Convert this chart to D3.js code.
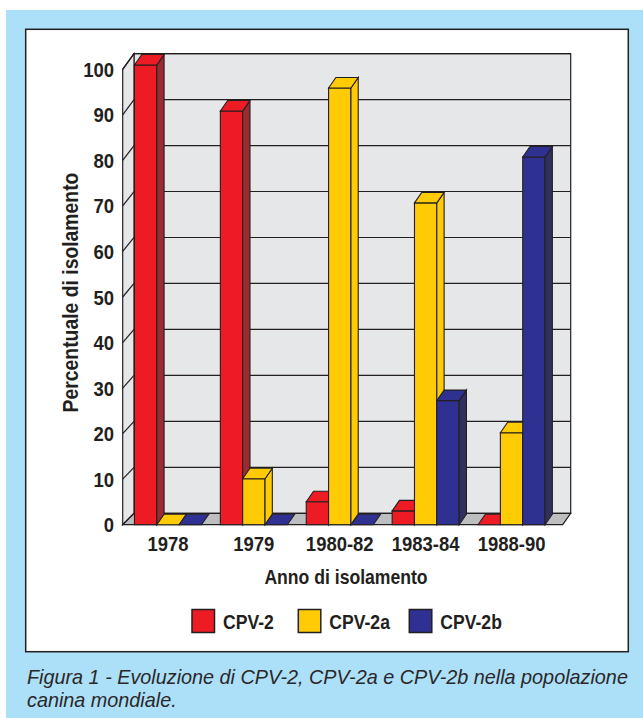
<!DOCTYPE html>
<html>
<head>
<meta charset="utf-8">
<script src="https://cdn.jsdelivr.net/npm/d3@7"></script>
<style>
body { margin: 0; background: #fff; }
</style>
</head>
<body>
<div id="wrap"></div>
<script>

// data
var categories = ["1978", "1979", "1980-82", "1983-84", "1988-90"];
var seriesNames = ["CPV-2", "CPV-2a", "CPV-2b"];
var cpv2  = [100, 90,  5,  3,  0];
var cpv2a = [  0, 10, 95, 70, 20];
var cpv2b = [  0,  0,  0, 27, 80];
var yTicks = [0, 10, 20, 30, 40, 50, 60, 70, 80, 90, 100];
var captionLines = ["Figura 1 - Evoluzione di CPV-2, CPV-2a e CPV-2b nella popolazione",
                    "canina mondiale."];

var seriesValues = [cpv2, cpv2a, cpv2b];
var colors = ["#ed1c24", "#ffcb05", "#2e3192"];
var sideColors = ["#9b2b33", "#ffcb05", "#30305f"];
var ink = "#231f20";
var fontFam = '"Liberation Sans", Arial, sans-serif';
var squeeze = 0.88;   // fake a condensed face

var svg = d3.select("#wrap").append("svg")
    .attr("width", 643)
    .attr("height", 718)
    .style("display", "block");

// light blue frame + white panel
svg.append("rect")
  .attr("x", 6).attr("y", 10).attr("width", 637).attr("height", 708)
  .attr("fill", "#ace0f8");
svg.append("rect")
  .attr("x", 25.7).attr("y", 29.3).attr("width", 602.6).attr("height", 622.4)
  .attr("fill", "#fff").attr("stroke", ink).attr("stroke-width", 1.5);

// scales
var y = d3.scaleLinear().domain([0, 100]).range([524.7, 65]);
var yWall = d3.scaleLinear().domain([0, 100]).range([524.7, 69.3]);

var x0 = d3.scaleBand()
    .domain(categories)
    .range([125, 554.5])
    .paddingInner(0.22)
    .paddingOuter(0.11);
var x1 = d3.scaleBand()
    .domain(seriesNames)
    .range([0, x0.bandwidth()]);

// 3d depth of walls and bars
var xL = 122.7, xR = 562.7;
var wallDxL = 11.3, wallDxR = 8, wallDy = 11.4;
var barDx = 7.3, barDy = 10.5;

function pts(arr) { return arr.map(function(p) { return p.join(","); }).join(" "); }

// place a text at x,y squeezed horizontally
function at(x, y, rot, s) {
  return "translate(" + x + "," + y + ")" + (rot ? " rotate(" + rot + ")" : "") + " scale(" + (s || squeeze) + ",1)";
}

// back wall
svg.append("polygon")
  .attr("points", pts([[xL + wallDxL, y(0) - wallDy], [xL + wallDxL, y(100) - wallDy],
                       [xR + wallDxR, y(100) - wallDy], [xR + wallDxR, y(0) - wallDy]]))
  .attr("fill", "#e6e7e8").attr("stroke", ink).attr("stroke-width", 1.2);

// left wall
svg.append("polygon")
  .attr("points", pts([[xL, yWall(0)], [xL, yWall(100)],
                       [xL + wallDxL, y(100) - wallDy], [xL + wallDxL, y(0) - wallDy]]))
  .attr("fill", "#e6e7e8").attr("stroke", ink).attr("stroke-width", 1.2);

// floor
svg.append("polygon")
  .attr("points", pts([[xL, y(0)], [xR, y(0)],
                       [xR + wallDxR, y(0) - wallDy], [xL + wallDxL, y(0) - wallDy]]))
  .attr("fill", "#bcbec0").attr("stroke", ink).attr("stroke-width", 1.2);

// grid lines on back wall + diagonals on left wall
svg.selectAll(".grid")
  .data(yTicks.filter(function(d) { return d > 0; }))
  .enter().append("line")
    .attr("class", "grid")
    .attr("x1", xL + wallDxL).attr("x2", xR + wallDxR)
    .attr("y1", function(d) { return y(d) - wallDy; })
    .attr("y2", function(d) { return y(d) - wallDy; })
    .attr("stroke", ink).attr("stroke-width", 1.2);

svg.selectAll(".diag")
  .data(yTicks)
  .enter().append("line")
    .attr("class", "diag")
    .attr("x1", xL).attr("x2", xL + wallDxL)
    .attr("y1", function(d) { return yWall(d); })
    .attr("y2", function(d) { return y(d) - wallDy; })
    .attr("stroke", ink).attr("stroke-width", 1.2);

// bars
var barData = [];
categories.forEach(function(c, i) {
  seriesNames.forEach(function(s, j) {
    barData.push({ cat: c, series: s, idx: j, value: seriesValues[j][i] });
  });
});

var bars = svg.selectAll(".bar")
  .data(barData)
  .enter().append("g")
    .attr("class", "bar");

bars.each(function(d) {
  var g = d3.select(this);
  var bx = x0(d.cat) + x1(d.series);
  var w = x1.bandwidth();
  var top = y(d.value), base = y(0);
  if (d.value > 0) {
    g.append("rect")
      .attr("x", bx).attr("y", top).attr("width", w).attr("height", base - top)
      .attr("fill", colors[d.idx]).attr("stroke", ink).attr("stroke-width", 1.1);
    g.append("polygon")
      .attr("points", pts([[bx + w, top], [bx + w + barDx, top - barDy],
                           [bx + w + barDx, base - barDy], [bx + w, base]]))
      .attr("fill", sideColors[d.idx]).attr("stroke", ink).attr("stroke-width", 1.1);
  }
  g.append("polygon")
    .attr("points", pts([[bx, top], [bx + barDx, top - barDy],
                         [bx + w + barDx, top - barDy], [bx + w, top]]))
    .attr("fill", colors[d.idx]).attr("stroke", ink).attr("stroke-width", 1.1);
});

// y tick labels
svg.selectAll(".ytick")
  .data(yTicks)
  .enter().append("text")
    .attr("class", "ytick")
    .attr("transform", function(d) { return at(114, yWall(d) + 7.5); })
    .attr("text-anchor", "end")
    .attr("font-family", fontFam).attr("font-weight", "bold").attr("font-size", 21)
    .attr("fill", ink)
    .text(function(d) { return d; });

// x category labels
svg.selectAll(".xtick")
  .data(categories)
  .enter().append("text")
    .attr("class", "xtick")
    .attr("transform", function(d) { return at(x0(d) + x0.bandwidth() / 2, 551); })
    .attr("text-anchor", "middle")
    .attr("font-family", fontFam).attr("font-weight", "bold").attr("font-size", 21)
    .attr("fill", ink)
    .text(function(d) { return d; });

// axis titles
svg.append("text")
  .attr("transform", at(77.5, 292.5, -90))
  .attr("text-anchor", "middle")
  .attr("font-family", fontFam).attr("font-weight", "bold").attr("font-size", 22)
  .attr("fill", ink)
  .text("Percentuale di isolamento");

svg.append("text")
  .attr("transform", at(346, 584))
  .attr("text-anchor", "middle")
  .attr("font-family", fontFam).attr("font-weight", "bold").attr("font-size", 20)
  .attr("fill", ink)
  .text("Anno di isolamento");

// legend
var legendX = [192, 298.3, 409.3];
var legend = svg.selectAll(".legend")
  .data(seriesNames)
  .enter().append("g")
    .attr("class", "legend")
    .attr("transform", function(d, i) { return "translate(" + legendX[i] + ",609.5)"; });

legend.append("rect")
  .attr("width", 22.5).attr("height", 23)
  .attr("fill", function(d, i) { return colors[i]; })
  .attr("stroke", ink).attr("stroke-width", 1.5);

legend.append("text")
  .attr("transform", at(31, 19))
  .attr("font-family", fontFam).attr("font-weight", "bold").attr("font-size", 20)
  .attr("fill", ink)
  .text(function(d) { return d; });

// caption: first line squeezed to span the panel width, second line uses the same squeeze
var capWidth = 601;
var capText = svg.selectAll(".caption")
  .data(captionLines)
  .enter().append("text")
    .attr("class", "caption")
    .attr("font-family", fontFam).attr("font-style", "italic").attr("font-size", 21)
    .attr("fill", "#2b2728")
    .text(function(d) { return d; });
var natural = capText.nodes()[0].getComputedTextLength();
var capSqueeze = Math.min(1, capWidth / natural);
capText.attr("transform", function(d, i) { return at(27, 683.5 + i * 23.5, 0, capSqueeze); });

</script>
</body>
</html>
